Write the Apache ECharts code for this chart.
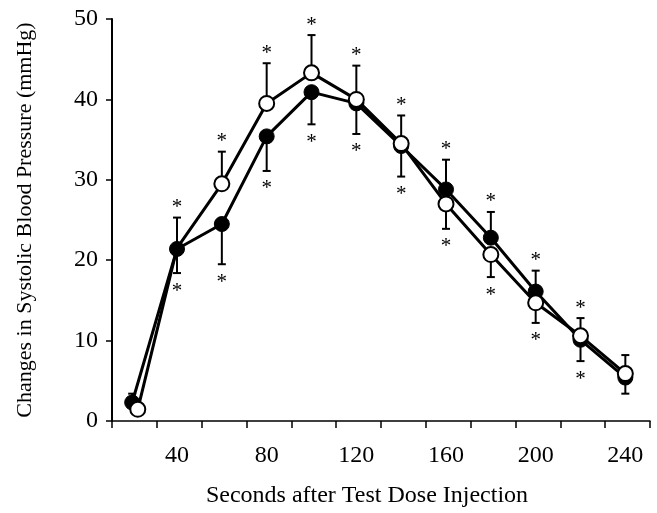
<!DOCTYPE html>
<html lang="en">
<head>
    <meta charset="UTF-8">
    <title>Systolic blood pressure after test dose</title>
    <script src="https://cdn.jsdelivr.net/npm/echarts@6/dist/echarts.min.js"></script>
    <style>
        html, body { margin: 0; padding: 0; background: #fff; }
    </style>
</head>
<body>
<div id="main" style="width: 657px;height:513px;"></div>
<script type="text/javascript">
    // time points (seconds)
    var seconds = [20, 40, 60, 80, 100, 120, 140, 160, 180, 200, 220, 240];
    var openSeconds = [22.5, 40, 60, 80, 100, 120, 140, 160, 180, 200, 220, 240];

    // filled circles
    var filledMean = [2.3, 21.4, 24.5, 35.4, 40.9, 39.5, 34.2, 28.8, 22.8, 16.1, 10.1, 5.4];
    var filledErrEnd = [3.4, 18.4, 19.5, 31.1, 36.9, 35.7, 30.4, 32.5, 26.0, 18.7, 7.45, 3.4];

    // open circles
    var openMean = [1.45, 21.5, 29.5, 39.5, 43.3, 40.0, 34.5, 27.0, 20.7, 14.7, 10.6, 5.9];
    var openErrEnd = [null, 25.3, 33.5, 44.5, 48.0, 44.2, 38.0, 23.9, 17.9, 12.2, 12.8, 8.2];

    // significance marks
    var starred = [false, true, true, true, true, true, true, true, true, true, true, false];

    var xTicks = [11, 31, 51, 71, 91, 111, 131, 151, 171, 191, 211, 231, 251];
    var xLabels = [40, 80, 120, 160, 200, 240];

    var FONT = 'Liberation Serif';

    function pairs(xs, ys) {
        return xs.map(function (x, i) { return [x, ys[i]]; });
    }

    function errData(xs, means, ends) {
        var out = [];
        for (var i = 0; i < xs.length; i++) {
            if (ends[i] == null) continue;
            out.push([xs[i], means[i], ends[i], starred[i] ? 1 : 0]);
        }
        return out;
    }

    function renderErr(params, api) {
        var p0 = api.coord([api.value(0), api.value(1)]);
        var p1 = api.coord([api.value(0), api.value(2)]);
        var up = p1[1] < p0[1];
        var children = [{
            type: 'line',
            shape: {x1: p0[0], y1: p0[1], x2: p1[0], y2: p1[1]},
            style: {stroke: '#000', lineWidth: 2}
        }, {
            type: 'line',
            shape: {x1: p1[0] - 4, y1: p1[1], x2: p1[0] + 4, y2: p1[1]},
            style: {stroke: '#000', lineWidth: 2}
        }];
        if (api.value(3)) {
            children.push({
                type: 'text',
                x: p1[0],
                y: up ? p1[1] - 10 : p1[1] + 18,
                style: {
                    text: '*',
                    font: '21px "' + FONT + '"',
                    fill: '#000',
                    align: 'center',
                    verticalAlign: 'middle'
                }
            });
        }
        return {type: 'group', children: children};
    }

    var myChart = echarts.init(document.getElementById('main'));
    var openData = pairs(openSeconds, openMean).map(function (d, i) {
        // open marker at 40 s sits hidden under the filled one
        return i === 1 ? {value: d, symbolSize: 0} : d;
    });

    var option = {
        backgroundColor: '#fff',
        animation: false,
        grid: {left: 112, right: 7, top: 19, bottom: 91},
        xAxis: {
            type: 'value',
            min: 11,
            max: 251,
            name: 'Seconds after Test Dose Injection',
            nameLocation: 'middle',
            nameGap: 63,
            nameTextStyle: {fontFamily: FONT, fontSize: 24, color: '#000', padding: [0, 28, 0, 0]},
            axisLine: {lineStyle: {color: '#000', width: 1.5}},
            axisTick: {length: 7, customValues: xTicks, lineStyle: {color: '#000', width: 1.5}},
            axisLabel: {customValues: xLabels, margin: 23, fontFamily: FONT, fontSize: 24, color: '#000'},
            splitLine: {show: false}
        },
        yAxis: {
            type: 'value',
            min: 0,
            max: 50,
            interval: 10,
            name: 'Changes in Systolic Blood Pressure (mmHg)',
            nameLocation: 'middle',
            nameGap: 76,
            nameTextStyle: {fontFamily: FONT, fontSize: 22, color: '#000'},
            axisLine: {show: true, lineStyle: {color: '#000', width: 2}},
            axisTick: {show: true, length: 6, lineStyle: {color: '#000', width: 1.5}},
            axisLabel: {margin: 14, fontFamily: FONT, fontSize: 24, color: '#000'},
            splitLine: {show: false}
        },
        series: [
            {
                type: 'custom',
                name: 'filled err',
                z: 1,
                renderItem: renderErr,
                encode: {x: 0, y: [1, 2]},
                data: errData(seconds, filledMean, filledErrEnd)
            },
            {
                type: 'custom',
                name: 'open err',
                z: 1,
                renderItem: renderErr,
                encode: {x: 0, y: [1, 2]},
                data: errData(openSeconds, openMean, openErrEnd)
            },
            {
                type: 'line',
                name: 'filled',
                z: 3,
                symbol: 'circle',
                symbolSize: 15,
                lineStyle: {color: '#000', width: 3},
                itemStyle: {color: '#000', borderColor: '#000', borderWidth: 1},
                data: pairs(seconds, filledMean)
            },
            {
                type: 'line',
                name: 'open',
                z: 4,
                symbol: 'circle',
                symbolSize: 15,
                lineStyle: {color: '#000', width: 3},
                itemStyle: {color: '#fff', borderColor: '#000', borderWidth: 2},
                data: openData
            }
        ]
    };
    myChart.setOption(option);
</script>
</body>
</html>
